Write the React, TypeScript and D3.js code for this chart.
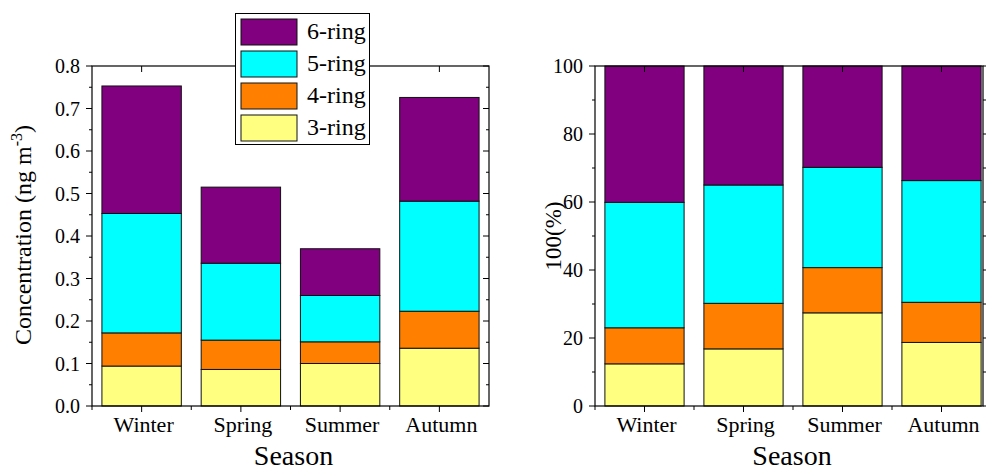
import React, { useEffect, useRef } from 'react';
import * as d3 from 'd3';

// seasonal ring-number composition
const seasons = ['Winter', 'Spring', 'Summer', 'Autumn'];
const rings = ['3-ring', '4-ring', '5-ring', '6-ring'];
const ringColors = ['#ffff80', '#ff8000', '#00ffff', '#800080'];

// concentrations (ng m-3)
const conc3 = [0.094, 0.086, 0.100, 0.136];
const conc4 = [0.078, 0.069, 0.051, 0.087];
const conc5 = [0.281, 0.181, 0.109, 0.259];
const conc6 = [0.300, 0.179, 0.110, 0.244];

// percentages (%)
const pct3 = [12.4, 16.8, 27.4, 18.7];
const pct4 = [10.6, 13.4, 13.3, 11.8];
const pct5 = [36.9, 34.8, 29.5, 35.8];
const pct6 = [40.1, 35.0, 29.8, 33.7];

const leftTicks = [0, 0.1, 0.2, 0.3, 0.4, 0.5, 0.6, 0.7, 0.8];
const rightTicks = [0, 20, 40, 60, 80, 100];

const FONT = '"Liberation Serif", "Times New Roman", serif';

function buildRows(series: number[][]) {
  return seasons.map((s, i) => {
    const row: any = { season: s };
    rings.forEach((r, k) => { row[r] = series[k][i]; });
    return row;
  });
}

function drawPanel(svg: any, opts: any) {
  const { x0, x1, bandEnd, top, bottom, yMax, ticks, minorStep, fmt, series, rightTickOut } = opts;
  const x = d3.scaleBand().domain(seasons).range([x0, bandEnd]).paddingInner(0.2).paddingOuter(0.1);
  const y = d3.scaleLinear().domain([0, yMax]).range([bottom, top]);
  const g = svg.append('g');

  const stacked = d3.stack().keys(rings)(buildRows(series));
  stacked.forEach((layer: any, k: number) => {
    g.selectAll(null).data(layer).enter().append('rect')
      .attr('x', (d: any) => x(d.data.season))
      .attr('width', x.bandwidth())
      .attr('y', (d: any) => y(d[1]))
      .attr('height', (d: any) => y(d[0]) - y(d[1]))
      .attr('fill', ringColors[k])
      .attr('stroke', '#111').attr('stroke-width', 1);
  });

  // frame
  g.append('rect').attr('x', x0).attr('y', top).attr('width', x1 - x0).attr('height', bottom - top)
    .attr('fill', 'none').attr('stroke', '#000').attr('stroke-width', 1.2);

  // y ticks
  const minor = d3.range(0, yMax + 1e-9, minorStep);
  minor.forEach((v: number) => {
    const isMajor = ticks.some((t: number) => Math.abs(t - v) < 1e-9);
    const len = isMajor ? 6 : 3;
    g.append('line').attr('x1', x0 - len).attr('x2', x0).attr('y1', y(v)).attr('y2', y(v)).attr('stroke', '#000');
    if (rightTickOut) {
      g.append('line').attr('x1', x1).attr('x2', x1 + len).attr('y1', y(v)).attr('y2', y(v)).attr('stroke', '#000');
    } else {
      g.append('line').attr('x1', x1 - len).attr('x2', x1).attr('y1', y(v)).attr('y2', y(v)).attr('stroke', '#000');
    }
  });
  g.selectAll(null).data(ticks).enter().append('text')
    .attr('x', x0 - 12).attr('y', (d: number) => y(d) + 7)
    .attr('text-anchor', 'end').attr('font-family', FONT).attr('font-size', 20).attr('fill', '#000')
    .text((d: number) => fmt(d));

  // x ticks
  seasons.forEach((s, i) => {
    const cx = (x(s) as number) + x.bandwidth() / 2;
    g.append('line').attr('x1', cx).attr('x2', cx).attr('y1', bottom).attr('y2', bottom + 6).attr('stroke', '#000');
    g.append('line').attr('x1', cx).attr('x2', cx).attr('y1', top).attr('y2', top + 6).attr('stroke', '#000');
    const bx = x0 + x.step() * i;
    g.append('line').attr('x1', bx).attr('x2', bx).attr('y1', bottom).attr('y2', bottom + 4).attr('stroke', '#000');
  });
  g.selectAll(null).data(seasons).enter().append('text')
    .attr('x', (d: string) => (x(d) as number) + x.bandwidth() / 2 + 2).attr('y', bottom + 26)
    .attr('text-anchor', 'middle').attr('font-family', FONT).attr('font-size', 22).attr('fill', '#000')
    .text((d: string) => d);

  svg.append('text').attr('x', (x0 + x1) / 2 + 3).attr('y', 465)
    .attr('text-anchor', 'middle').attr('font-family', FONT).attr('font-size', 28).attr('fill', '#000')
    .text('Season');
  return g;
}

export default function App() {
  const ref = useRef<SVGSVGElement>(null);
  useEffect(() => {
    const svg = d3.select(ref.current);
    svg.selectAll('*').remove();
    svg.append('rect').attr('width', 986).attr('height', 472).attr('fill', '#fff');

    drawPanel(svg, {
      x0: 92, x1: 489, bandEnd: 489, top: 66, bottom: 406, yMax: 0.8,
      ticks: leftTicks, minorStep: 0.05, fmt: d3.format('.1f'),
      series: [conc3, conc4, conc5, conc6], rightTickOut: false
    });
    drawPanel(svg, {
      x0: 595, x1: 983, bandEnd: 991, top: 66, bottom: 406, yMax: 100,
      ticks: rightTicks, minorStep: 10, fmt: d3.format('d'),
      series: [pct3, pct4, pct5, pct6], rightTickOut: true
    });

    // y titles
    const t1 = svg.append('text').attr('transform', 'translate(31,235) rotate(-90)')
      .attr('text-anchor', 'middle').attr('font-family', FONT).attr('font-size', 24).attr('fill', '#000');
    t1.append('tspan').text('Concentration (ng m');
    t1.append('tspan').attr('dy', -9).attr('font-size', 16).text('-3');
    t1.append('tspan').attr('dy', 9).text(')');
    svg.append('text').attr('transform', 'translate(561,236) rotate(-90)')
      .attr('text-anchor', 'middle').attr('font-family', FONT).attr('font-size', 23).attr('fill', '#000')
      .text('100(%)');

    // legend
    const lg = svg.append('g');
    lg.append('rect').attr('x', 235.5).attr('y', 13.5).attr('width', 134).attr('height', 131)
      .attr('fill', '#fff').attr('stroke', '#000').attr('stroke-width', 1);
    const order = [3, 2, 1, 0];
    order.forEach((k, j) => {
      const yy = 19 + j * 32;
      lg.append('rect').attr('x', 241).attr('y', yy).attr('width', 56).attr('height', 26)
        .attr('fill', ringColors[k]).attr('stroke', '#111').attr('stroke-width', 1);
      lg.append('text').attr('x', 307).attr('y', yy + 20).attr('font-family', FONT).attr('font-size', 24)
        .attr('fill', '#000').text(rings[k]);
    });
  }, []);

  return (
    <div style={{ position: 'fixed', left: 0, top: 0 }}>
      <svg ref={ref} width={986} height={472} style={{ display: 'block' }} />
    </div>
  );
}
